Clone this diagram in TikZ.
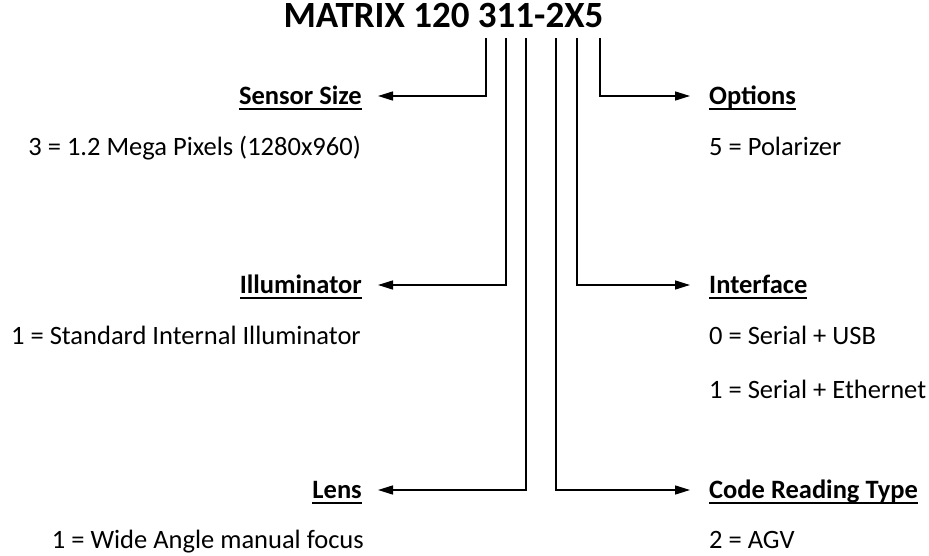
\documentclass[tikz,border=0pt]{standalone}
\usepackage{fontspec}
\setmainfont{Carlito}
\usetikzlibrary{arrows.meta}
\newcommand\ulbox[1]{\setbox0\hbox{#1}\rlap{\smash{\rule[-0.2em]{\wd0}{0.075em}}}\box0}
\begin{document}
\begin{tikzpicture}[x=1pt,y=-1pt,
  lab/.style={inner sep=0pt, font=\fontsize{26.5}{30}\selectfont, text height=17pt, text depth=0pt},
  head/.style={lab, font=\fontsize{26.5}{30}\selectfont\bfseries},
  arr/.style={line width=1.5pt, -{Triangle[length=15pt,width=9pt]}}]
\useasboundingbox (0,0) rectangle (929,556);
\node[inner sep=0pt, font=\fontsize{37}{40}\selectfont\bfseries, text height=24pt, text depth=0pt] (title) at (443.5,15.5) {MATRIX 120 311-2X5};
\coordinate (t1) at (486,38);
\coordinate (t2) at (506,38);
\coordinate (t3) at (526,38);
\coordinate (t4) at (556,38);
\coordinate (t5) at (577,38);
\coordinate (t6) at (600,38);
% left column
\node[head, anchor=east] (ss) at (362,96) {\ulbox{Sensor Size}};
\node[lab, anchor=east] (ssd) at (361,147) {3 = 1.2 Mega Pixels (1280x960)};
\node[head, anchor=east] (il) at (362,285) {\ulbox{Illuminator}};
\node[lab, anchor=east] (ild) at (361,336) {1 = Standard Internal Illuminator};
\node[head, anchor=east] (le) at (362,490) {\ulbox{Lens}};
\node[lab, anchor=east] (led) at (364,540) {1 = Wide Angle manual focus};
% right column
\node[head, anchor=west] (op) at (709,96) {\ulbox{Options}};
\node[lab, anchor=west] (opd) at (709,147) {5 = Polarizer};
\node[head, anchor=west] (in) at (709,285) {\ulbox{Interface}};
\node[lab, anchor=west] (ind1) at (709,336) {0 = Serial + USB};
\node[lab, anchor=west] (ind2) at (709,390) {1 = Serial + Ethernet};
\node[head, anchor=west] (cr) at (709,490) {\ulbox{Code Reading Type}};
\node[lab, anchor=west] (crd) at (709,540) {2 = AGV};
% connectors
\draw[arr] (t1) |- ([xshift=16pt]ss.east);
\draw[arr] (t2) |- ([xshift=16pt]il.east);
\draw[arr] (t3) |- ([xshift=16pt]le.east);
\draw[arr] (t4) |- ([xshift=-19pt]cr.west);
\draw[arr] (t5) |- ([xshift=-19pt]in.west);
\draw[arr] (t6) |- ([xshift=-19pt]op.west);
\end{tikzpicture}
\end{document}
